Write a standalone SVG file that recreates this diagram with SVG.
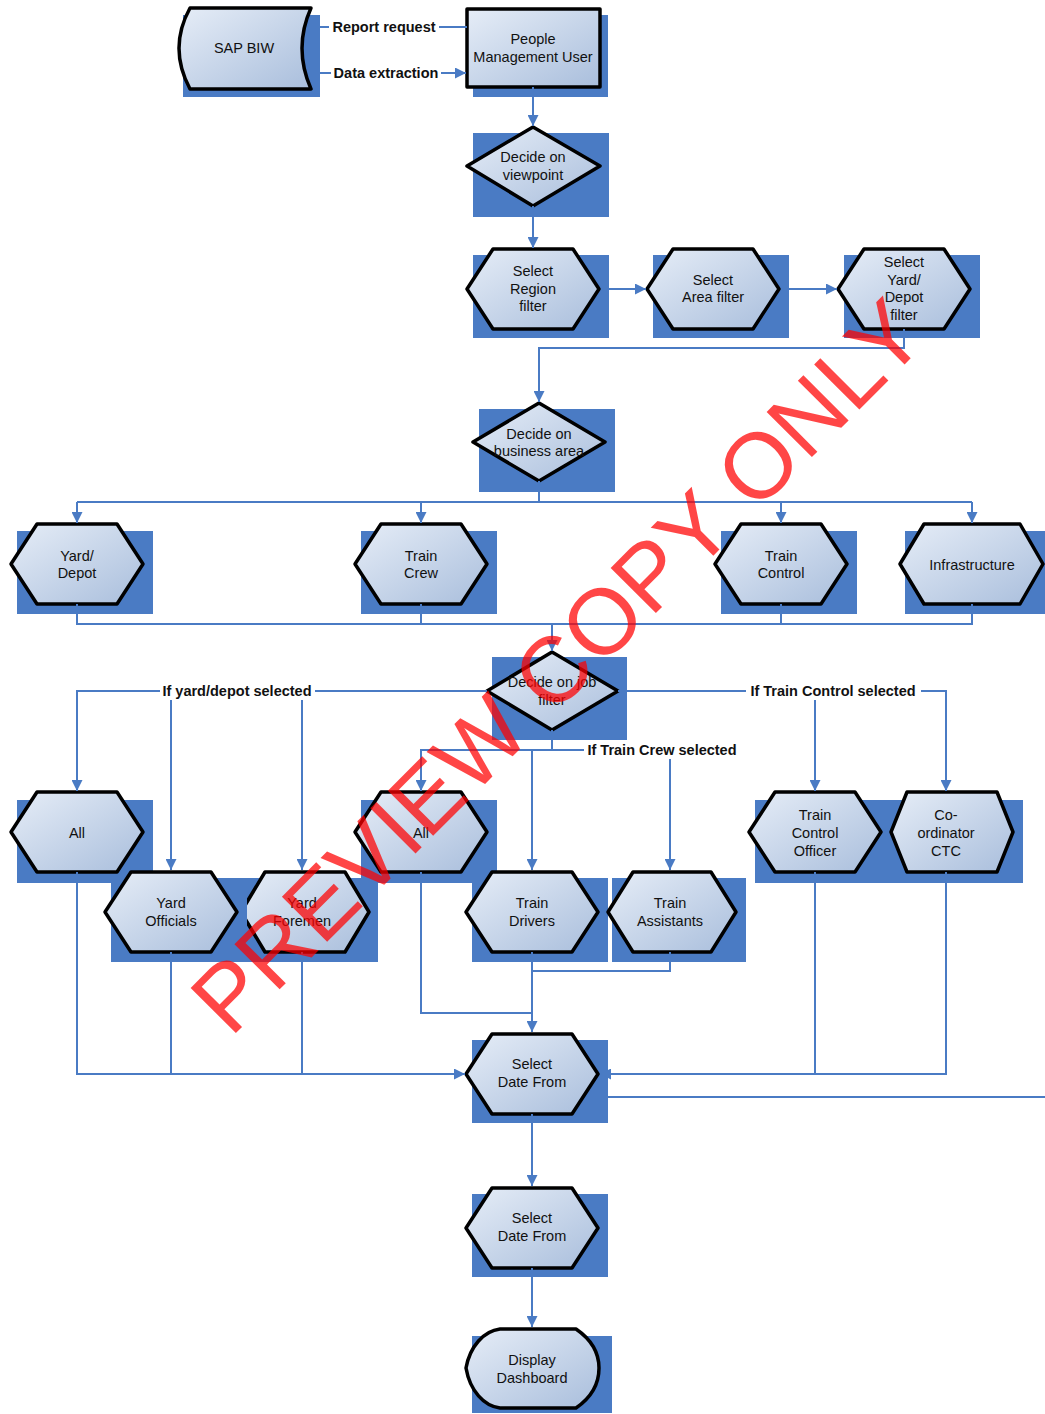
<svg xmlns="http://www.w3.org/2000/svg" width="1045" height="1414" viewBox="0 0 1045 1414">
<defs>
<linearGradient id="fill" x1="0" y1="0" x2="1" y2="1">
<stop offset="0" stop-color="#e6edf7"/>
<stop offset="1" stop-color="#a9bedc"/>
</linearGradient>
<marker id="arr" viewBox="0 0 10 10" refX="10" refY="5" markerWidth="11" markerHeight="11" markerUnits="userSpaceOnUse" orient="auto">
<path d="M0,0 L10,5 L0,10 Z" fill="#4a7bc4"/>
</marker>
<style>
.sh{fill:#4a7bc4}
.shape{fill:url(#fill);stroke:#000;stroke-width:3.5;stroke-linejoin:round}
.t{font-family:"Liberation Sans",Arial,sans-serif;font-size:14.5px;fill:#111;text-anchor:middle}
.lbl{font-family:"Liberation Sans",Arial,sans-serif;font-size:14.5px;font-weight:bold;fill:#111;text-anchor:middle}
.c{fill:none;stroke:#4a7bc4;stroke-width:2}
.a{marker-end:url(#arr)}
.bg{fill:#fff}
.wm{font-family:"Liberation Sans",Arial,sans-serif;font-size:93px;fill:#ff0000;opacity:0.72;text-anchor:middle}
</style>
</defs>

<g id="sap-biw">
<rect class="sh" x="183" y="15" width="137" height="82"/>
<path class="shape" d="M190,8 L311,8 Q293,48 311,89 L190,89 Q168,48 190,8 Z"/>
<text class="t" x="244" y="53">SAP BIW</text>
</g>

<g id="pm-user">
<rect class="sh" x="473" y="15" width="135" height="82"/>
<rect class="shape" x="467" y="9" width="133" height="78"/>
<text class="t" x="533" y="44">People</text>
<text class="t" x="533" y="62">Management User</text>
</g>

<g id="decide-viewpoint">
<rect class="sh" x="473" y="133" width="136" height="84"/>
<polygon class="shape" points="467,166 533,127 600,166 533,206"/>
<text class="t" x="533" y="162">Decide on</text>
<text class="t" x="533" y="180">viewpoint</text>
</g>

<g id="select-region">
<rect class="sh" x="473" y="255" width="136" height="83"/>
<polygon class="shape" points="467,289 493,249 573,249 599,289 573,329 493,329"/>
<text class="t" x="533" y="276">Select</text>
<text class="t" x="533" y="294">Region</text>
<text class="t" x="533" y="311">filter</text>
</g>

<g id="select-area">
<rect class="sh" x="653" y="255" width="136" height="83"/>
<polygon class="shape" points="647,289 673,249 753,249 779,289 753,329 673,329"/>
<text class="t" x="713" y="285">Select</text>
<text class="t" x="713" y="302">Area filter</text>
</g>

<g id="select-yard-depot">
<rect class="sh" x="844" y="255" width="136" height="83"/>
<polygon class="shape" points="838,289 864,249 944,249 970,289 944,329 864,329"/>
<text class="t" x="904" y="267">Select</text>
<text class="t" x="904" y="285">Yard/</text>
<text class="t" x="904" y="302">Depot</text>
<text class="t" x="904" y="320">filter</text>
</g>

<g id="decide-business">
<rect class="sh" x="479" y="409" width="136" height="83"/>
<polygon class="shape" points="473,442 539,403 605,442 539,481"/>
<text class="t" x="539" y="439">Decide on</text>
<text class="t" x="539" y="456">business area</text>
</g>

<g id="yard-depot">
<rect class="sh" x="17" y="531" width="136" height="83"/>
<polygon class="shape" points="11,564 37,524 117,524 143,564 117,604 37,604"/>
<text class="t" x="77" y="561">Yard/</text>
<text class="t" x="77" y="578">Depot</text>
</g>

<g id="train-crew">
<rect class="sh" x="361" y="531" width="136" height="83"/>
<polygon class="shape" points="355,564 381,524 461,524 487,564 461,604 381,604"/>
<text class="t" x="421" y="561">Train</text>
<text class="t" x="421" y="578">Crew</text>
</g>

<g id="train-control">
<rect class="sh" x="721" y="531" width="136" height="83"/>
<polygon class="shape" points="715,564 741,524 821,524 847,564 821,604 741,604"/>
<text class="t" x="781" y="561">Train</text>
<text class="t" x="781" y="578">Control</text>
</g>

<g id="infrastructure">
<rect class="sh" x="905" y="531" width="145" height="83"/>
<polygon class="shape" points="900,564 924,524 1020,524 1043,564 1020,604 924,604"/>
<text class="t" x="972" y="570">Infrastructure</text>
</g>

<g id="decide-job">
<rect class="sh" x="492" y="657" width="135" height="83"/>
<polygon class="shape" points="487,691 552,652 618,691 552,730"/>
<text class="t" x="552" y="687">Decide on job</text>
<text class="t" x="552" y="705">filter</text>
</g>

<g id="all-yard">
<rect class="sh" x="17" y="800" width="136" height="83"/>
<polygon class="shape" points="11,832 37,792 117,792 143,832 117,872 37,872"/>
<text class="t" x="77" y="838">All</text>
</g>

<g id="yard-foremen">
<rect class="sh" x="247" y="878" width="131" height="84"/>
<polygon class="shape" points="241,912 265,872 345,872 369,912 345,952 265,952"/>
<text class="t" x="302" y="908">Yard</text>
<text class="t" x="302" y="926">Foremen</text>
</g>

<g id="yard-officials">
<rect class="sh" x="111" y="878" width="136" height="84"/>
<polygon class="shape" points="105,912 131,872 211,872 237,912 211,952 131,952"/>
<text class="t" x="171" y="908">Yard</text>
<text class="t" x="171" y="926">Officials</text>
</g>

<g id="all-crew">
<rect class="sh" x="361" y="800" width="136" height="83"/>
<polygon class="shape" points="355,832 381,792 461,792 487,832 461,872 381,872"/>
<text class="t" x="421" y="838">All</text>
</g>

<g id="train-drivers">
<rect class="sh" x="472" y="878" width="136" height="84"/>
<polygon class="shape" points="466,912 492,872 572,872 598,912 572,952 492,952"/>
<text class="t" x="532" y="908">Train</text>
<text class="t" x="532" y="926">Drivers</text>
</g>

<g id="train-assistants">
<rect class="sh" x="612" y="878" width="134" height="84"/>
<polygon class="shape" points="608,912 633,872 711,872 736,912 711,952 633,952"/>
<text class="t" x="670" y="908">Train</text>
<text class="t" x="670" y="926">Assistants</text>
</g>

<g id="train-control-officer">
<rect class="sh" x="755" y="800" width="136" height="83"/>
<polygon class="shape" points="749,832 775,792 855,792 881,832 855,872 775,872"/>
<text class="t" x="815" y="820">Train</text>
<text class="t" x="815" y="838">Control</text>
<text class="t" x="815" y="856">Officer</text>
</g>

<g id="coordinator-ctc">
<rect class="sh" x="891" y="800" width="132" height="83"/>
<polygon class="shape" points="891,832 907,792 997,792 1013,832 997,872 907,872"/>
<text class="t" x="946" y="820">Co-</text>
<text class="t" x="946" y="838">ordinator</text>
<text class="t" x="946" y="856">CTC</text>
</g>

<g id="select-date-1">
<rect class="sh" x="472" y="1040" width="136" height="83"/>
<polygon class="shape" points="466,1074 492,1034 572,1034 598,1074 572,1114 492,1114"/>
<text class="t" x="532" y="1069">Select</text>
<text class="t" x="532" y="1087">Date From</text>
</g>

<g id="select-date-2">
<rect class="sh" x="472" y="1194" width="136" height="83"/>
<polygon class="shape" points="466,1228 492,1188 572,1188 598,1228 572,1268 492,1268"/>
<text class="t" x="532" y="1223">Select</text>
<text class="t" x="532" y="1241">Date From</text>
</g>

<g id="display-dashboard">
<rect class="sh" x="472" y="1336" width="140" height="77"/>
<path class="shape" d="M466,1368 C470,1346 484,1331 500,1329 L576,1329 C592,1340 599,1354 599,1368 C599,1383 592,1397 576,1408 L500,1408 C484,1406 470,1391 466,1368 Z"/>
<text class="t" x="532" y="1365">Display</text>
<text class="t" x="532" y="1383">Dashboard</text>
</g>

<g id="connectors">
<path class="c" d="M320,27 H467"/>
<path class="c a" d="M320,73 H466"/>
<path class="c a" d="M533,87 V126"/>
<path class="c a" d="M533,206 V248"/>
<path class="c a" d="M609,289 H646"/>
<path class="c a" d="M789,289 H837"/>
<path class="c a" d="M904,329 V348 H539 V402"/>
<path class="c" d="M539,481 V502 M77,502 H972"/>
<path class="c a" d="M77,502 V523"/>
<path class="c a" d="M421,502 V523"/>
<path class="c a" d="M781,502 V523"/>
<path class="c a" d="M972,502 V523"/>
<path class="c" d="M77,604 V624 H972 V604 M421,604 V624 M781,604 V624"/>
<path class="c a" d="M552,624 V651"/>
<path class="c a" d="M487,691 H77 V791"/>
<path class="c a" d="M171,691 V870"/>
<path class="c a" d="M302,691 V870"/>
<path class="c a" d="M618,691 H946 V791"/>
<path class="c a" d="M815,691 V791"/>
<path class="c a" d="M552,730 V750 H421 V791"/>
<path class="c a" d="M552,750 H670 V870"/>
<path class="c a" d="M532,750 V870"/>
<path class="c a" d="M77,872 V1074 H465"/>
<path class="c" d="M171,952 V1074 M302,952 V1074"/>
<path class="c" d="M421,872 V1013 H532 M670,952 V971 H532"/>
<path class="c a" d="M532,952 V1032"/>
<path class="c" d="M815,872 V1074"/>
<path class="c a" d="M946,872 V1074 H600"/>
<path class="c" d="M608,1097 H1045"/>
<path class="c a" d="M532,1114 V1186"/>
<path class="c a" d="M532,1268 V1327"/>
<rect class="bg" x="329" y="19" width="110" height="17"/>
<text class="lbl" x="384" y="32">Report request</text>
<rect class="bg" x="331" y="65" width="110" height="17"/>
<text class="lbl" x="386" y="78">Data extraction</text>
<rect class="bg" x="160" y="683" width="155" height="17"/>
<text class="lbl" x="237" y="696">If yard/depot selected</text>
<rect class="bg" x="746" y="683" width="175" height="17"/>
<text class="lbl" x="833" y="696">If Train Control selected</text>
<rect class="bg" x="584" y="742" width="158" height="17"/>
<text class="lbl" x="662" y="755">If Train Crew selected</text>
</g>

<text class="wm" transform="translate(580,689) rotate(-45)">PREVIEW COPY ONLY</text>
</svg>
